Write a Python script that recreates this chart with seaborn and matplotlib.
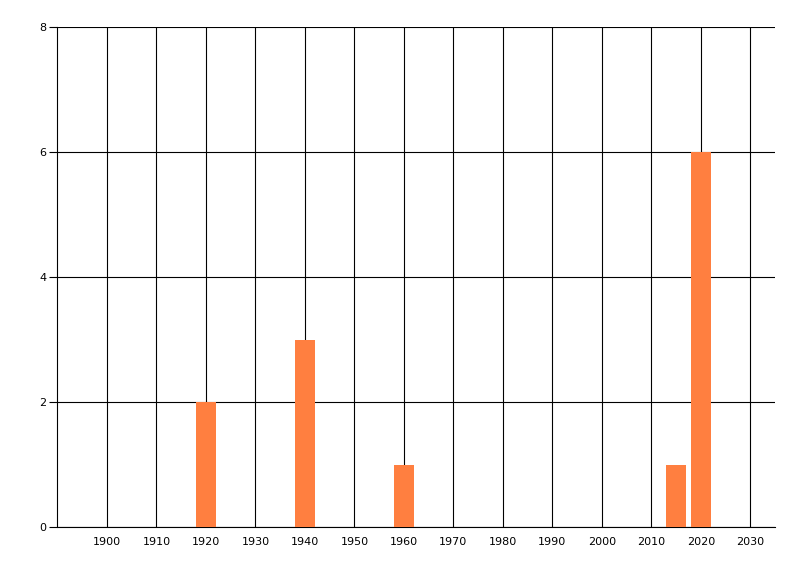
import matplotlib
matplotlib.use("Agg")
import matplotlib.pyplot as plt
import seaborn as sns
import pandas as pd

years = [1920, 1940, 1960, 2015, 2020]
counts = [2, 3, 1, 1, 6]
x_ticks = list(range(1900, 2031, 10))
y_ticks = [0, 2, 4, 6, 8]

sns.set_theme(style="white")
plt.rcParams['font.family'] = ['DejaVu Sans']

df = pd.DataFrame({"year": years, "count": counts})

fig = plt.figure(figsize=(8, 5.76), dpi=100)
ax = fig.add_axes([57.5/800, 1-527/576, (775-57.5)/800, 500/576])

sns.barplot(data=df, x="year", y="count", native_scale=True, width=0.8,
            color="#FF7F40", saturation=1, ax=ax, zorder=3,
            linewidth=0, edgecolor="none")

ax.set_xlim(1890, 2035)
ax.set_ylim(0, 8)
ax.set_xticks(x_ticks)
ax.set_yticks(y_ticks)
ax.set_xticklabels([str(t) for t in x_ticks], fontsize=8, color="black")
ax.set_yticklabels([str(t) for t in y_ticks], fontsize=8, color="black")
ax.set_xlabel("")
ax.set_ylabel("")

ax.grid(True, color="black", linewidth=0.8)
ax.set_axisbelow(True)

for s in ["top", "right"]:
    ax.spines[s].set_visible(False)
for s in ["left", "bottom"]:
    ax.spines[s].set_visible(True)
    ax.spines[s].set_color("black")
    ax.spines[s].set_linewidth(0.8)

ax.tick_params(axis="y", length=6, width=0.8, color="black", pad=2, left=True)
ax.tick_params(axis="x", length=0, pad=7, bottom=False)

fig.savefig("out.png", dpi=100, facecolor="white")
